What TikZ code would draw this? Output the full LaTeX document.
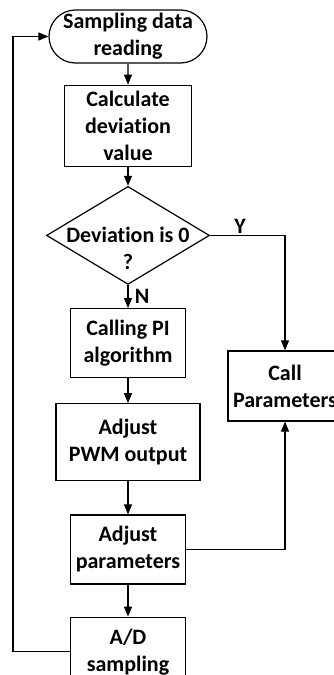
\documentclass[tikz,border=0pt]{standalone}
\usepackage{fontspec}
\setmainfont[Ligatures={NoCommon}]{Carlito}
\usetikzlibrary{shapes.misc,shapes.geometric,arrows.meta,positioning}

\begin{document}
\begin{tikzpicture}[
    x=1pt, y=1pt,
    every node/.style={font=\fontsize{22}{27}\selectfont\bfseries},
    block/.style={rectangle, draw, line width=1.2pt, align=center, inner sep=2pt},
    term/.style={rounded rectangle, draw, line width=1.2pt, align=center, minimum width=160pt, minimum height=53pt, inner sep=1pt},
    decision/.style={diamond, draw, line width=1.2pt, minimum width=163pt, minimum height=98pt, inner sep=0pt},
    arrow/.style={-{Triangle[length=10pt,width=8pt]}, line width=1.2pt}
]
\useasboundingbox (0,0) rectangle (334,-675);
\clip (0,0) rectangle (334,-675);

\node[term] (start) at (128,-36.5) {Sampling data\\reading};
\node[block, below=21pt of start, minimum width=127pt, minimum height=81pt] (calc) {Calculate\\deviation\\value};
\node[decision, below=19pt of calc,
      label={[align=center, yshift=-13pt]center:Deviation is 0\\?}] (dev) {};
\node[block, below=23pt of dev, minimum width=115pt, minimum height=69pt] (pi) {Calling PI\\algorithm};
\node[block, below=25pt of pi, minimum width=144pt, minimum height=77pt] (pwm) {Adjust\\PWM output};
\node[block, below=33pt of pwm, minimum width=115pt, minimum height=69pt] (adj) {Adjust\\parameters};
\node[block, below=32pt of adj, minimum width=115pt, minimum height=69pt] (ad) {A/D\\sampling};
\node[block, minimum width=114pt, minimum height=70pt] (call) at (285,-386) {Call\\Parameters};

\draw[arrow] (start) -- (calc);
\draw[arrow] (calc) -- (dev);
\draw[arrow] (dev) -- (pi) node[midway, right, xshift=3pt] {N};
\draw[arrow] (pi) -- (pwm);
\draw[arrow] (pwm) -- (adj);
\draw[arrow] (adj) -- (ad);
\draw[arrow] (dev.east) -| (call.north) node[pos=0.2, above, inner sep=1pt] {Y};
\draw[arrow] (adj.east) -| (call.south);
\draw[arrow] (ad.west) -- ++(-57,0) |- (start.west);

\end{tikzpicture}
\end{document}
